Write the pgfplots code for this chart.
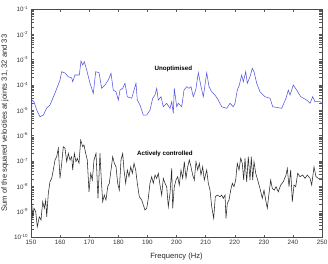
\documentclass[border=0pt]{standalone}
\usepackage{pgfplots}
\pgfplotsset{compat=1.18}
\usepackage{fontspec}
\setmainfont{Liberation Sans}
\definecolor{unopt}{RGB}{85,85,225}
\definecolor{ctrl}{RGB}{40,40,40}

% Sum of squared velocities at joints 31, 32 and 33 (m^2/s^2)
\pgfplotstableread{
f v
150.00 2.0e-6
150.34 2.55e-5
151.03 2.19e-5
151.96 1.03e-5
153.09 5.6e-6
154.23 6.5e-6
155.40 1.24e-5
156.53 1.62e-5
158.25 4.8e-5
159.97 1.57e-4
160.55 3.35e-4
161.68 2.97e-4
162.82 2.12e-4
163.99 1.89e-4
164.33 1.35e-4
165.12 2.48e-4
166.60 2.48e-4
167.18 8.85e-4
167.77 6.15e-4
168.32 8.3e-4
169.14 3.9e-4
170.27 1.17e-4
171.41 4.7e-5
172.23 3.35e-4
173.37 3.05e-4
174.30 7.4e-5
175.43 1.0e-4
176.56 1.57e-4
177.49 2.9e-4
178.28 6.3e-5
179.21 5.4e-5
180.00 2.55e-5
180.58 6.3e-5
181.51 7.4e-5
182.30 1.17e-4
183.09 3.45e-5
184.60 3.0e-5
185.40 6.3e-5
186.08 1.17e-4
186.53 2.55e-5
187.46 1.62e-5
188.59 6.5e-6
189.76 6.5e-6
190.89 1.03e-5
191.82 3.0e-5
192.61 4.0e-5
193.20 7.4e-5
193.75 2.55e-5
194.67 3.45e-5
195.46 1.39e-5
196.63 1.89e-5
197.77 1.2e-5
198.35 2.19e-5
198.90 7.6e-6
199.24 7.4e-5
200.07 1.39e-5
200.62 1.89e-5
201.79 1.39e-5
202.58 6.3e-5
203.51 8.6e-5
204.30 7.4e-5
204.98 8.6e-5
205.77 3.45e-5
206.60 6.3e-5
207.49 3.05e-4
208.32 1.0e-4
209.21 3.45e-5
210.38 3.05e-4
211.17 8.6e-5
212.10 5.4e-5
213.23 4.0e-5
214.36 2.55e-5
215.53 1.39e-5
217.25 1.2e-5
218.38 1.89e-5
219.52 1.39e-5
220.10 1.89e-5
220.89 6.3e-5
221.58 1.0e-4
222.41 2.48e-4
222.96 1.35e-4
223.78 3.35e-4
224.33 1.17e-4
225.26 2.12e-4
226.05 4.56e-4
226.63 3.35e-4
227.56 1.17e-4
228.69 5.4e-5
230.41 3.45e-5
232.13 3.0e-5
233.06 1.39e-5
234.98 1.27e-5
236.15 1.2e-5
237.63 3.0e-5
238.42 6.3e-5
239.00 4.0e-5
240.14 1.0e-4
241.31 6.3e-5
242.68 3.45e-5
244.74 2.55e-5
245.88 1.89e-5
246.80 3.45e-5
247.59 2.19e-5
249.31 2.19e-5
250.00 1.89e-5
}\unoptimised

\pgfplotstableread{
f v
150.00 6.1e-9
150.58 6.3e-10
151.03 1.36e-9
151.62 1.0e-9
152.16 2.54e-10
152.85 6.3e-10
153.44 4.7e-10
154.02 2.47e-9
154.57 1.36e-9
155.05 2.88e-9
155.40 6.3e-10
155.95 5.3e-9
156.53 1.52e-8
157.11 2.07e-8
157.66 4.4e-8
158.25 1.09e-7
158.83 1.48e-7
159.38 3.17e-7
159.97 2.07e-8
160.55 8.1e-8
161.10 3.66e-7
161.68 3.17e-7
162.27 9.4e-8
162.82 2.0e-7
163.40 1.09e-7
163.99 1.48e-7
164.33 4.4e-8
164.88 2.0e-7
165.46 9.4e-8
165.91 1.28e-7
166.49 8.1e-8
167.08 6.7e-7
167.77 3.66e-7
168.21 4.3e-7
168.80 2.0e-7
169.35 1.09e-7
169.93 6.1e-9
170.52 3.27e-8
171.07 1.77e-8
171.65 1.09e-7
172.34 2.0e-7
173.02 3.37e-9
173.71 2.0e-7
174.16 1.77e-8
174.64 2.47e-9
175.19 4.5e-9
175.77 2.88e-9
176.36 9.7e-9
176.91 1.32e-8
177.49 4.4e-8
178.08 1.48e-7
178.63 8.1e-8
179.21 5.9e-8
179.79 1.32e-8
180.34 7.1e-9
180.93 1.09e-7
181.51 2.0e-7
181.96 4.4e-8
182.54 1.32e-8
183.09 4.4e-8
183.68 2.4e-8
184.26 5.9e-8
184.81 3.27e-8
185.40 8.1e-8
185.98 4.4e-8
186.53 1.32e-8
187.22 3.9e-9
188.04 2.88e-9
188.59 1.83e-9
189.18 1.16e-9
189.76 1.36e-9
190.31 3.37e-9
190.89 1.32e-8
191.48 2.4e-8
192.03 1.32e-8
192.61 2.8e-8
193.20 2.07e-8
193.75 3.27e-8
194.33 1.13e-8
194.91 4.5e-9
195.46 2.07e-8
196.05 1.32e-8
196.63 9.7e-9
197.18 1.57e-9
197.77 5.3e-9
198.35 5.1e-8
198.69 1.36e-9
199.24 9.7e-9
199.83 1.77e-8
200.41 2.4e-8
200.96 1.13e-8
201.55 4.4e-8
202.13 2.07e-8
202.68 9.4e-8
203.26 2.07e-8
203.85 5.9e-8
204.40 1.09e-7
204.98 5.9e-8
205.57 2.8e-8
206.12 1.77e-8
206.70 9.4e-8
207.29 4.4e-8
207.84 8.1e-8
208.42 2.8e-8
209.00 5.9e-8
209.55 1.77e-8
210.38 4.4e-8
210.93 1.32e-8
211.51 7.1e-9
212.10 1.57e-9
212.78 5.5e-10
213.33 3.9e-9
214.02 4.5e-9
214.95 3.9e-9
215.53 4.5e-9
216.08 3.37e-9
216.67 4.5e-9
217.01 5.5e-10
217.46 2.13e-9
218.04 2.88e-9
218.63 7.1e-9
219.18 1.32e-8
219.76 9.7e-9
220.34 1.77e-8
220.89 8.1e-8
221.48 4.4e-8
222.06 1.28e-7
222.61 8.1e-8
223.09 1.77e-8
223.54 1.28e-7
224.12 1.52e-8
224.67 1.48e-7
225.26 1.77e-8
225.70 1.48e-7
226.19 1.77e-8
226.63 9.4e-8
227.22 3.27e-8
227.90 1.77e-8
228.69 8.3e-9
229.48 3.37e-9
230.07 7.1e-9
230.65 2.88e-9
231.20 1.36e-9
231.79 5.3e-9
232.37 1.77e-8
232.92 8.3e-9
233.61 7.1e-9
234.19 9.7e-9
234.98 6.1e-9
235.81 1.13e-8
236.70 1.52e-8
237.63 2.8e-8
238.08 5.1e-8
238.66 9.7e-9
239.24 4.4e-8
239.79 2.47e-9
240.38 1.13e-8
240.96 9.7e-9
241.65 3.27e-8
242.44 2.4e-8
243.37 2.8e-8
244.16 2.07e-8
244.95 2.8e-8
245.88 2.07e-8
246.46 1.13e-8
247.25 5.9e-8
247.94 2.4e-8
248.73 2.07e-8
249.66 2.07e-8
250.00 2.07e-8
}\controlled

\begin{document}
\begin{tikzpicture}
\begin{axis}[
  at={(0,0)}, anchor=south west,
  scale only axis,
  width=291pt, height=228pt,
  ymode=log,
  xmin=150, xmax=250, ymin=1e-10, ymax=1e-1,
  xtick={150,160,...,250},
  ytick={1e-10,1e-9,1e-8,1e-7,1e-6,1e-5,1e-4,1e-3,1e-2,1e-1},
  yticklabels={10\textsuperscript{-10},10\textsuperscript{-9},10\textsuperscript{-8},10\textsuperscript{-7},10\textsuperscript{-6},10\textsuperscript{-5},10\textsuperscript{-4},10\textsuperscript{-3},10\textsuperscript{-2},10\textsuperscript{-1}},
  minor ytick={},
  /pgf/number format/assume math mode=true,
  /pgf/number format/set thousands separator={},
  tick align=inside,
  major tick length=2.5pt,
  tick style={gray!70!black, line width=0.4pt},
  axis line style={gray!60!black, line width=0.6pt},
  ticklabel style={font=\fontsize{6.3}{7}\selectfont, text=black!80},
  yticklabel style={xshift=0.5pt},
  xlabel={Frequency (Hz)},
  ylabel={Sum of the squared velocities at joints 31, 32 and 33},
  label style={font=\fontsize{7.6}{9}\selectfont, text=black!85},
  xlabel style={at={(axis description cs:0.5,-0.0877)}, anchor=center},
  ylabel style={at={(axis description cs:-0.0893,0.5)}, anchor=center, rotate=0},
  clip=true,
]
\addplot[unopt, line width=0.55pt] table[x=f, y=v] {\unoptimised};
\addplot[ctrl, line width=0.55pt] table[x=f, y=v] {\controlled};
\node[font=\bfseries\fontsize{6.2}{7}\selectfont] at (axis cs:198.9,4.3e-4) {Unoptimised};
\node[font=\bfseries\fontsize{6.2}{7}\selectfont] at (axis cs:196,1.84e-7) {Actively controlled};
\end{axis}
\pgfresetboundingbox
\path (-31pt,-26pt) rectangle (297pt,237pt);
\end{tikzpicture}
\end{document}
